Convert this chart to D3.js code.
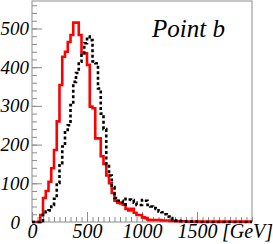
<!DOCTYPE html>
<html>
<head>
<meta charset="utf-8">
<script src="https://cdn.jsdelivr.net/npm/d3@7"></script>
<style>
  body { margin: 0; background: #fff; }
</style>
</head>
<body>
<div id="chart"></div>
<script>
// bin lower edges are 0,25,50,... GeV (25 GeV bins up to 2000)
var binWidth = 25;
var redCounts = [0, 0, 0, 18, 62, 80, 104, 139, 186, 260, 354, 427, 440, 465, 483, 515, 515, 483, 436, 436,
                 406, 298, 294, 216, 216, 170, 150, 120, 100, 75, 55, 50, 48, 45, 34, 30, 34, 24, 18, 18,
                 12, 10, 6, 5, 5, 5, 5, 4, 4, 4, 3, 3, 2, 2, 2, 2, 1, 1, 1, 1,
                 1, 1, 1, 1, 1, 1, 1, 1, 1, 1, 1, 1, 1, 1, 1, 1, 1, 1, 1, 1];
var blackCounts = [0, 0, 0, 3, 25, 27, 30, 44, 60, 101, 152, 195, 238, 250, 302, 362, 385, 414, 436, 462,
                   479, 470, 415, 410, 345, 280, 240, 150, 120, 90, 62, 55, 55, 45, 60, 58, 57, 50, 44, 44,
                   57, 55, 44, 40, 36, 34, 27, 25, 20, 14, 10, 5, 4, 3, 2, 2, 1, 1, 1, 1,
                   0, 0, 0, 0, 0, 0, 0, 0, 0, 0, 0, 0, 0, 0, 0, 0, 0, 0, 0, 0];
var yTicks = [0, 100, 200, 300, 400, 500];
var xTicks = [0, 500, 1000, 1500];
var title = "Point b";
var unitLabel = "[GeV]";

var serif = '"Liberation Serif"';

var W = 273, H = 244;
var margin = { top: 1, left: 32, right: 21, bottom: 22 };
var width = W - margin.left - margin.right;
var height = H - margin.top - margin.bottom;

var svg = d3.select("#chart").append("svg")
        .attr("width", W)
        .attr("height", H)
        .append("g")
        .attr("transform", "translate(" + margin.left + "," + margin.top + ")");

var x = d3.scaleLinear().domain([0, 2000]).range([0, width]);
var y = d3.scaleLinear().domain([0, 571]).range([height, 0]);

//frame
svg.append("rect")
    .attr("x", 0).attr("y", 0)
    .attr("width", width).attr("height", height)
    .attr("fill", "none")
    .attr("stroke", "#8c8c8c")
    .attr("stroke-width", 1);

//minor ticks first, then major ticks with labels
svg.append("g")
    .attr("transform", "translate(0," + height + ")")
    .call(d3.axisBottom(x).tickValues(d3.range(0, 2001, 50)).tickSize(-5).tickFormat(""))
    .call(g => g.select(".domain").remove());
svg.append("g")
    .attr("class", "x-axis")
    .attr("transform", "translate(0," + height + ")")
    .call(d3.axisBottom(x).tickValues(xTicks).tickSize(-10).tickPadding(2).tickFormat(d3.format("d")))
    .call(g => g.select(".domain").remove());

svg.append("g")
    .call(d3.axisLeft(y).tickValues(d3.range(0, 571, 20)).tickSize(-5).tickFormat(""))
    .call(g => g.select(".domain").remove());
svg.append("g")
    .attr("class", "y-axis")
    .call(d3.axisLeft(y).tickValues(yTicks).tickSize(-10).tickPadding(3))
    .call(g => g.select(".domain").remove());

svg.selectAll(".tick line").attr("stroke", "#8c8c8c");
svg.selectAll(".tick text")
    .attr("fill", "#000")
    .style("font-family", serif)
    .style("font-style", "italic")
    .style("font-size", "20px");
svg.select(".y-axis").selectAll(".tick text").style("font-size", "19px");
//the zero on the y axis sits a bit further left
svg.select(".y-axis").selectAll(".tick text").filter(d => d === 0).attr("x", -12);

//step outline like a histogram
function stepPath(counts) {
    var pts = [[0, 0]];
    counts.forEach((c, i) => {
        pts.push([i * binWidth, c]);
        pts.push([(i + 1) * binWidth, c]);
    });
    return d3.line().x(d => x(d[0])).y(d => y(d[1]))(pts);
}

svg.append("path")
    .attr("d", stepPath(redCounts))
    .attr("fill", "none")
    .attr("stroke", "#ff0000")
    .attr("stroke-width", 2.6)
    .attr("stroke-linejoin", "miter");

svg.append("path")
    .attr("d", stepPath(blackCounts))
    .attr("fill", "none")
    .attr("stroke", "#000")
    .attr("stroke-width", 2.6)
    .attr("stroke-dasharray", "3,2.5");

//title and unit
svg.append("text")
    .attr("x", 120).attr("y", 36)
    .style("font-family", serif)
    .style("font-style", "italic")
    .style("font-size", "25px")
    .text(title);

svg.append("text")
    .attr("x", 190).attr("y", height + 16)
    .style("font-family", serif)
    .style("font-style", "italic")
    .style("font-size", "20px")
    .text(unitLabel);
</script>
</body>
</html>
